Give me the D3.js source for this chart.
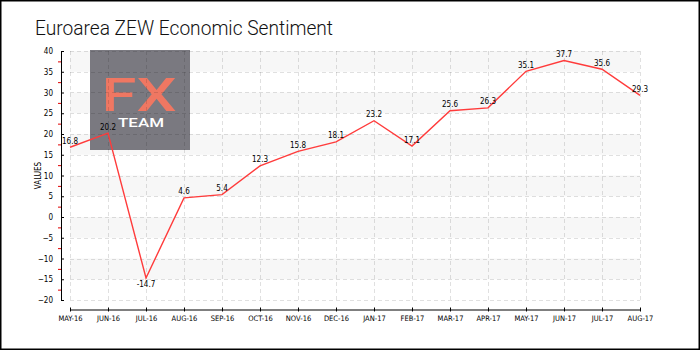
<!DOCTYPE html>
<html><head><meta charset="utf-8">
<script src="https://cdn.jsdelivr.net/npm/d3@7"></script>
<style>
html,body{margin:0;padding:0;background:#fff;}
svg{display:block;}
</style></head>
<body>
<svg id="c" width="700" height="350"></svg>
<script>
const months = ["MAY-16","JUN-16","JUL-16","AUG-16","SEP-16","OCT-16","NOV-16","DEC-16","JAN-17","FEB-17","MAR-17","APR-17","MAY-17","JUN-17","JUL-17","AUG-17"];
const values = [16.8,20.2,-14.7,4.6,5.4,12.3,15.8,18.1,23.2,17.1,25.6,26.3,35.1,37.7,35.6,29.3];
const yTicks = [-20,-15,-10,-5,0,5,10,15,20,25,30,35,40];
const yMinorTicks = [-17.5,-12.5,-7.5,-2.5,2.5,7.5,12.5,17.5,22.5,27.5,32.5,37.5];
const labelValues = ["16.8","20.2","-14.7","4.6","5.4","12.3","15.8","18.1","23.2","17.1","25.6","26.3","35.1","37.7","35.6","29.3"];
const title = "Euroarea ZEW Economic Sentiment";

(function(){
const svg = d3.select("#c");
const W = 700, H = 350;
const pLeft = 70, pRight = 640, pTop = 51, pBottom = 300;
const axisX = 61, axisY = 309.5;
const smallFont = "'DejaVu Sans Condensed','DejaVu Sans',sans-serif";

svg.append("rect").attr("x",0).attr("y",0).attr("width",W).attr("height",H).attr("fill","#fff");

const x = d3.scalePoint().domain(months).range([pLeft,pRight]);
const y = d3.scaleLinear().domain([-20,40]).range([pBottom,pTop]);

// bands
const bands = [];
for (let i = 0; i < yTicks.length-1; i++) bands.push([yTicks[i], yTicks[i+1]]);
svg.append("g").selectAll("rect").data(bands.filter((b,i)=> (bands.length-1-i)%2===0)).join("rect")
  .attr("x",pLeft).attr("width",pRight-pLeft)
  .attr("y",d=>y(d[1])).attr("height",d=>y(d[0])-y(d[1]))
  .attr("fill","#f7f7f7");

// logo
const logo = svg.append("g");
logo.append("rect").attr("x",90).attr("y",50).attr("width",100).attr("height",100).attr("fill","#7a7980");
logo.append("text").attr("x",139).attr("y",110.5).attr("text-anchor","middle")
  .attr("font-family","Roboto,'DejaVu Sans',sans-serif").attr("font-weight",500)
  .attr("font-size",47).attr("fill","#ef7762").attr("textLength",75).attr("lengthAdjust","spacingAndGlyphs").text("FX");
logo.append("text").attr("x",141).attr("y",127).attr("text-anchor","middle")
  .attr("font-family","Roboto,'DejaVu Sans',sans-serif").attr("font-weight",500)
  .attr("font-size",13).attr("fill","#fff").attr("textLength",46).attr("lengthAdjust","spacingAndGlyphs").text("TEAM");

// grid
const grid = svg.append("g").attr("stroke","rgba(0,0,0,0.12)").attr("stroke-dasharray","4,3").attr("stroke-width",1);
grid.selectAll("line.h").data(yTicks).join("line").attr("class","h")
  .attr("x1",pLeft).attr("x2",pRight).attr("y1",d=>Math.round(y(d))+0.5).attr("y2",d=>Math.round(y(d))+0.5);
grid.selectAll("line.v").data(months).join("line").attr("class","v")
  .attr("y1",pTop).attr("y2",pBottom).attr("x1",d=>Math.round(x(d))+0.5).attr("x2",d=>Math.round(x(d))+0.5);

// y axis
const yAxis = svg.append("g").attr("transform",`translate(${axisX},0)`)
  .call(d3.axisLeft(y).tickValues(yTicks).tickSizeInner(3).tickSizeOuter(0).tickPadding(5).tickFormat(d3.format("d")));
yAxis.selectAll(".tick line").attr("x2",3);
yAxis.select(".domain").attr("stroke","#000");
yAxis.selectAll("text").attr("font-family",smallFont).attr("font-size",8).attr("fill","#000");
const yMinor = svg.append("g").attr("transform",`translate(${axisX},0)`)
  .call(d3.axisLeft(y).tickValues(yMinorTicks).tickSize(3).tickFormat(""));
yMinor.select(".domain").remove();
yMinor.selectAll(".tick line").attr("stroke","#e00000");

svg.append("text").attr("transform",`translate(40.5,${(pTop+pBottom)/2}) rotate(-90)`)
  .attr("text-anchor","middle").attr("font-family",smallFont).attr("font-size",8).attr("fill","#000").text("VALUES");

// x axis
const xAxis = svg.append("g").attr("transform",`translate(0,${axisY})`)
  .call(d3.axisBottom(x).tickSizeInner(2).tickSizeOuter(0).tickPadding(4));
xAxis.selectAll(".tick line").attr("y1",-2);
xAxis.select(".domain").attr("stroke","#000");
xAxis.selectAll("text").attr("font-family",smallFont).attr("font-size",7.5).attr("fill","#000");

// line
const line = d3.line().x((d,i)=>x(months[i])).y(d=>y(d));
svg.append("path").datum(values).attr("d",line).attr("fill","none").attr("stroke","#ff3b3b").attr("stroke-width",1.4);

// labels
svg.append("g").selectAll("text").data(values).join("text")
  .attr("x",(d,i)=>x(months[i]))
  .attr("y",d=> d<0 ? y(d)+9 : y(d)-3.5)
  .attr("text-anchor","middle").attr("font-family",smallFont).attr("font-size",8).attr("fill","#000")
  .text((d,i)=>labelValues[i]);

// title
svg.append("text").attr("x",35).attr("y",35).attr("font-family","Roboto,'Open Sans',sans-serif").attr("font-weight",300)
  .attr("font-size",21).attr("fill","#111").attr("textLength",298).attr("lengthAdjust","spacingAndGlyphs").text(title);

// border
svg.append("rect").attr("x",0.75).attr("y",0.75).attr("width",W-1.5).attr("height",H-1.5).attr("fill","none").attr("stroke","#000").attr("stroke-width",1.5);
})();
</script>
</body></html>
